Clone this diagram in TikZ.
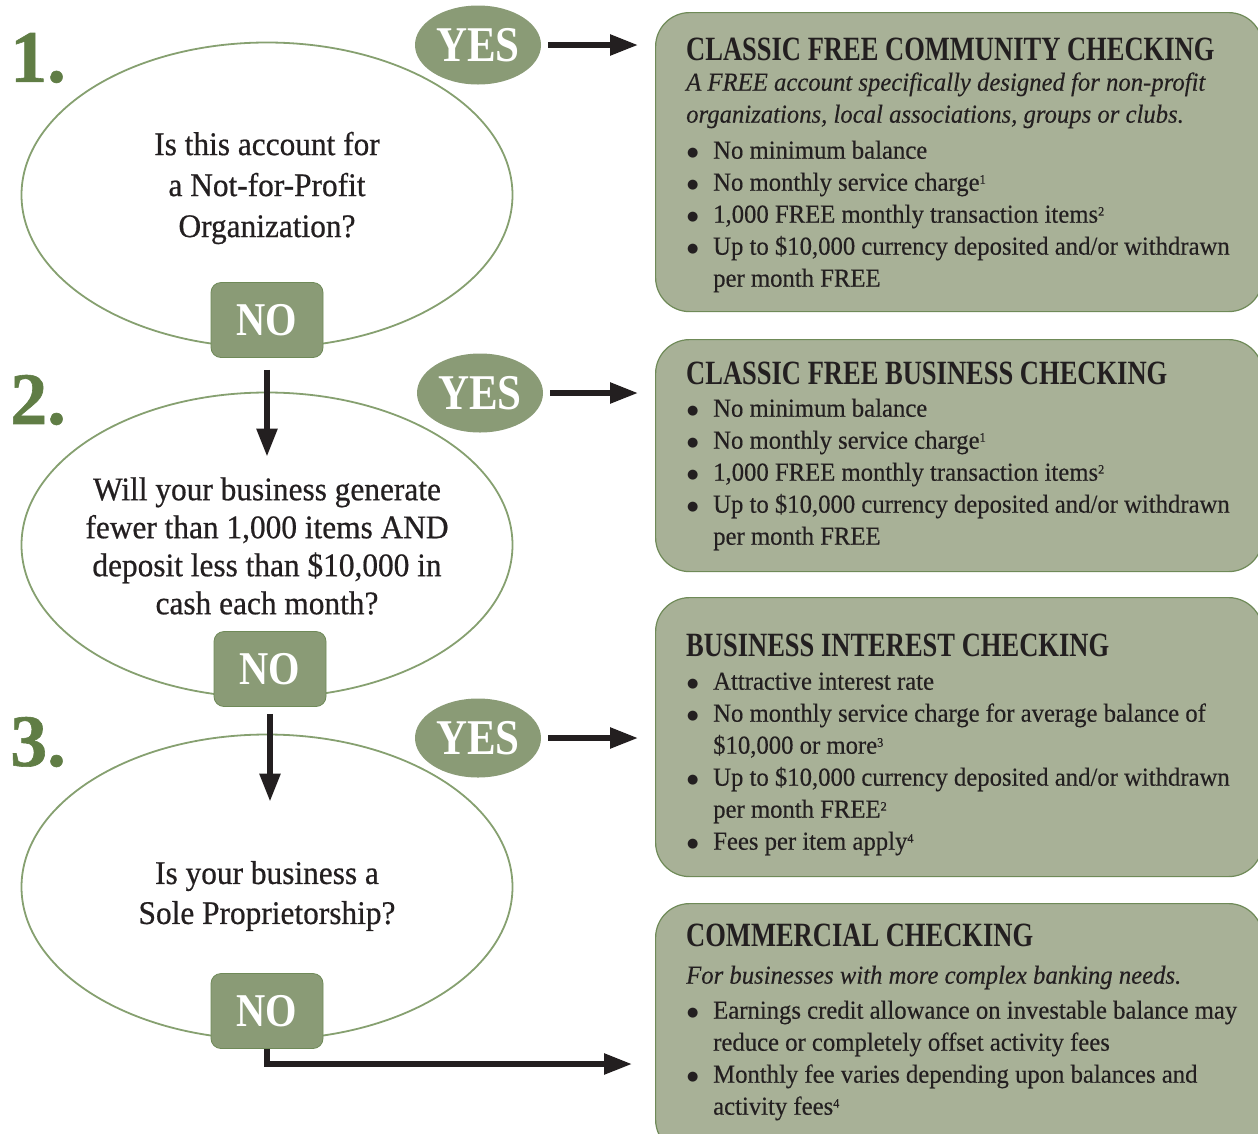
\documentclass[tikz,border=0pt]{standalone}
\usepackage{fontspec}
\setmainfont{Liberation Serif}[FakeStretch=0.95,FakeBold=0.3]
\newfontfamily\qfont{Liberation Serif}[FakeStretch=0.95,FakeBold=0.6]
\newfontfamily\headfont{Liberation Serif}[FakeStretch=0.78]
\newfontfamily\markfont{Liberation Serif}[FakeStretch=0.86]
\newfontfamily\numfont{Liberation Serif}[FakeStretch=1.0,FakeBold=0.8]
\newfontfamily\dotfont{DejaVu Sans}
\usetikzlibrary{shapes.geometric,arrows.meta,positioning}

\definecolor{sage}{HTML}{A8B197}
\definecolor{sagedark}{HTML}{6F8A58}
\definecolor{moss}{HTML}{8A9B76}
\definecolor{mossline}{HTML}{86A070}
\definecolor{leaf}{HTML}{607D45}
\definecolor{ink}{HTML}{231F20}

\newcommand\headline[1]{{\headfont\bfseries\fontsize{34}{34}\selectfont #1}}
\newcommand\bul{\makebox[27pt][l]{\hspace{1pt}\raisebox{2pt}{\dotfont\fontsize{13}{13}\selectfont ●}}}
\newcommand\ind{\hspace*{27pt}}
\newcommand\fn[1]{\raisebox{7pt}{\fontsize{13}{13}\selectfont #1}}

\tikzset{
  question/.style={ellipse, draw=mossline, line width=1.8pt, minimum width=491pt,
    minimum height=305pt, inner sep=0pt},
  qtext/.style={align=center, inner sep=0pt, text=ink},
  yesmark/.style={ellipse, fill=moss, minimum width=126pt, minimum height=79pt,
    inner sep=0pt, text=white, font=\markfont\bfseries\fontsize{50}{50}\selectfont},
  nomark/.style={rectangle, rounded corners=10pt, fill=moss, draw=sagedark,
    line width=0.8pt, minimum width=112pt, minimum height=75pt, text=white,
    font=\markfont\bfseries\fontsize{47}{47}\selectfont},
  stepnum/.style={inner sep=0pt, text=leaf,
    font=\numfont\bfseries\fontsize{74}{74}\selectfont},
  offer/.style={rectangle, rounded corners=34pt, fill=sage, draw=sagedark,
    line width=1.2pt, anchor=north west, minimum width=607pt},
  details/.style={align=left, anchor=north west, inner sep=0pt, text=ink,
    font=\fontsize{26}{32}\selectfont},
  arr/.style={-{Triangle[length=28pt,width=20pt]}, line width=5.5pt, draw=ink}
}

\begin{document}
\begin{tikzpicture}[x=1pt,y=-1pt]
  \useasboundingbox (0,0) rectangle (1258,1133);

  % Questions
  \node[question] (q1) at (267,195) {};
  \node[question] (q2) at (267,545) {};
  \node[question] (q3) at (267,887) {};

  \node[qtext, font=\qfont\fontsize{33}{41}\selectfont] (q1t) at (267,188)
    {Is this account for\\a Not-for-Profit\\Organization?};
  \node[qtext, font=\qfont\fontsize{33}{38}\selectfont] (q2t) at (267,546)
    {Will your business generate\\fewer than 1,000 items AND\\deposit less than \$10,000 in\\cash each month?};
  \node[qtext, font=\qfont\fontsize{33}{40}\selectfont] (q3t) at (267,896)
    {Is your business a\\Sole Proprietorship?};

  % Step numbers
  \node[stepnum] (s1) at (38,58) {1.};
  \node[stepnum] (s2) at (38,400) {2.};
  \node[stepnum] (s3) at (38,742) {3.};

  % Answers
  \node[yesmark] (yes1) at (478,45) {YES};
  \node[yesmark] (yes2) at (480,393) {YES};
  \node[yesmark] (yes3) at (478,738) {YES};
  \node[nomark] (no1) at (267,320) {NO};
  \node[nomark] (no2) at (270,669) {NO};
  \node[nomark] (no3) at (267,1011) {NO};

  % Account boxes
  \node[offer, minimum height=299pt] (c1) at (655,12) {};
  \node[offer, minimum height=232pt] (c2) at (655,339) {};
  \node[offer, minimum height=279pt] (c3) at (655,597) {};
  \node[offer, minimum height=250pt] (c4) at (655,903) {};

  \node[details] (t1) at (686,38) {\headline{CLASSIC FREE COMMUNITY CHECKING}\\[-2pt]
    \textit{A FREE account specifically designed for non-profit}\\
    \textit{organizations, local associations, groups or clubs.}\\[4pt]
    \bul No minimum balance\\
    \bul No monthly service charge\fn{1}\\
    \bul 1,000 FREE monthly transaction items\fn{2}\\
    \bul Up to \$10,000 currency deposited and/or withdrawn\\
    \ind per month FREE};
  \node[details] (t2) at (686,362) {\headline{CLASSIC FREE BUSINESS CHECKING}\\
    \bul No minimum balance\\
    \bul No monthly service charge\fn{1}\\
    \bul 1,000 FREE monthly transaction items\fn{2}\\
    \bul Up to \$10,000 currency deposited and/or withdrawn\\
    \ind per month FREE};
  \node[details] (t3) at (686,634) {\headline{BUSINESS INTEREST CHECKING}\\[1pt]
    \bul Attractive interest rate\\
    \bul No monthly service charge for average balance of\\
    \ind \$10,000 or more\fn{3}\\
    \bul Up to \$10,000 currency deposited and/or withdrawn\\
    \ind per month FREE\fn{2}\\
    \bul Fees per item apply\fn{4}};
  \node[details] (t4) at (686,924) {\headline{COMMERCIAL CHECKING}\\[5pt]
    \textit{For businesses with more complex banking needs.}\\[3pt]
    \bul Earnings credit allowance on investable balance may\\
    \ind reduce or completely offset activity fees\\
    \bul Monthly fee varies depending upon balances and\\
    \ind activity fees\fn{4}};

  % Arrows
  \foreach \n in {1,2,3} {
    \draw[arr, shorten <=7pt, shorten >=17pt] (yes\n) -- (yes\n -| c\n.west);
  }
  \coordinate (in2) at ([yshift=-65pt]q2.north);
  \coordinate (in3) at ([yshift=-68pt]q3.north);
  \draw[arr, shorten <=12pt] (no1) -- (in2);
  \draw[arr, shorten <=7pt] (no2) -- (in3 -| no2);
  \coordinate (in4) at ([xshift=-23pt]c4.west |- 0,1064);
  \draw[arr] (no3.south) |- (in4);

\end{tikzpicture}
\end{document}
